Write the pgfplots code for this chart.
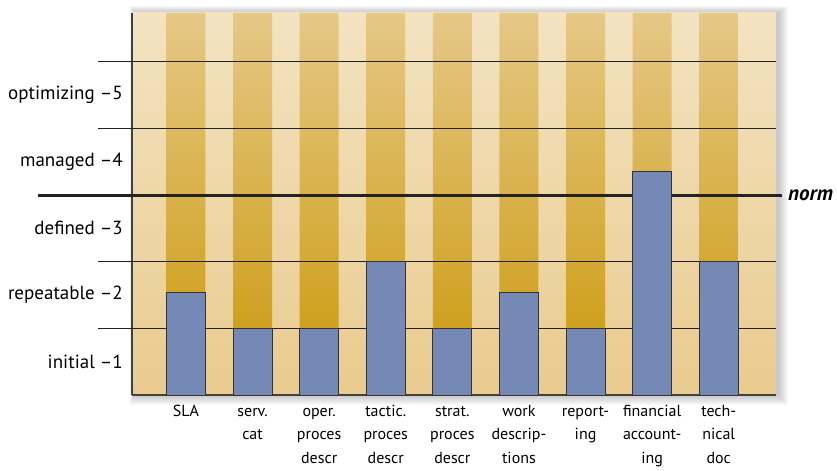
\documentclass[border=0pt]{standalone}
\usepackage{pgfplots}
\pgfplotsset{compat=1.18}
\usepackage{fontspec}
\setmainfont{PT Sans}
\usetikzlibrary{backgrounds}
\definecolor{barblue}{RGB}{118,137,182}
\definecolor{goldtop}{RGB}{230,200,135}
\definecolor{goldbot}{RGB}{202,152,8}
\definecolor{lighttop}{RGB}{243,227,193}
\definecolor{lightbot}{RGB}{233,203,142}
\definecolor{linec}{RGB}{34,34,34}
\begin{document}
\begin{tikzpicture}
\begin{axis}[
  scale only axis, width=644pt, height=382pt,
  xmin=-0.81, xmax=8.86, ymin=0, ymax=5.73,
  axis x line=bottom, axis y line=left,
  axis line style={-, draw=black!75, line width=1.4pt},
  xtick={0,...,8},
  xticklabels={{\strut SLA},{\strut serv.\\cat},{\strut oper.\\proces\\descr},{\strut tactic.\\proces\\descr},{\strut strat.\\proces\\descr},{\strut work\\descrip-\\tions},{\strut report-\\ing},{\strut financial\\account-\\ing},{\strut tech-\\nical\\doc}},
  ytick={0.5,1.5,2.5,3.5,4.5},
  yticklabels={initial –1,repeatable –2,defined –3,managed –4,optimizing –5},
  major tick length=0pt,
  tick style={draw=none},
  xticklabel style={font=\fontsize{16}{23.5}\selectfont, align=center, anchor=north, inner sep=0pt, yshift=-4.5pt},
  yticklabel style={font=\fontsize{19}{21}\selectfont, anchor=east, inner sep=0pt, xshift=-9pt},
  axis background/.style={top color=lighttop, bottom color=lightbot},
  clip=false,
]
\addplot[ybar, bar width=39pt, draw=none, top color=goldtop, bottom color=goldbot]
  coordinates {(0,5.73)(1,5.73)(2,5.73)(3,5.73)(4,5.73)(5,5.73)(6,5.73)(7,5.73)(8,5.73)};
\addplot[linec, line width=1pt, mark=none] coordinates {(-1.32,1)(8.86,1)};
\addplot[linec, line width=1pt, mark=none] coordinates {(-1.32,2)(8.86,2)};
\addplot[linec, line width=1pt, mark=none] coordinates {(-1.32,4)(8.86,4)};
\addplot[linec, line width=1pt, mark=none] coordinates {(-1.32,5)(8.86,5)};
\addplot[linec, line width=3pt, mark=none] coordinates {(-2.22,3)(8.95,3)};
\addplot[ybar, bar width=39pt, fill=barblue, draw=black!80, line width=1pt]
  coordinates {(0,1.54)(1,1)(2,1)(3,2)(4,1)(5,1.54)(6,1)(7,3.36)(8,2)};
\node[anchor=west, inner sep=0pt, xshift=6pt, font=\fontsize{21}{22}\selectfont\bfseries\itshape] at (axis cs:8.95,3) {norm};
\coordinate (psw) at (rel axis cs:0,0);
\coordinate (pne) at (rel axis cs:1,1);
\end{axis}
\begin{scope}[on background layer]
\foreach \i in {1,...,10} {
  \fill[black, opacity=0.025] ([shift={(-0.5*\i pt+3pt,-\i pt)}]psw) rectangle ([shift={(\i pt+2pt,0.7*\i pt)}]pne);
}
\end{scope}
\pgfresetboundingbox
\path[use as bounding box] ([shift={(-132pt,-75pt)}]psw) rectangle ([shift={(61pt,13pt)}]pne);
\end{tikzpicture}
\end{document}
